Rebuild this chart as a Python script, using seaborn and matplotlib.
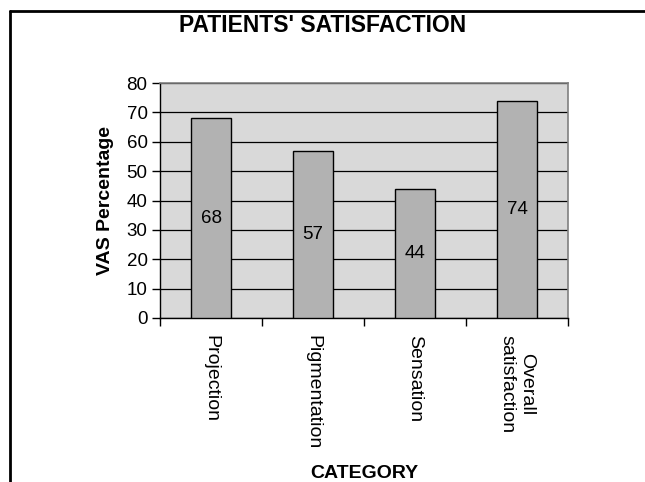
import matplotlib
matplotlib.use("Agg")
import matplotlib.pyplot as plt
from matplotlib.lines import Line2D
import seaborn as sns

# data
categories = ["Projection", "Pigmentation", "Sensation", "Overall\nsatisfaction"]
vas_values = [68, 57, 44, 74]
y_ticks = [0, 10, 20, 30, 40, 50, 60, 70, 80]

sns.set_style("white")
plt.rcParams['font.family'] = ['Liberation Sans', 'DejaVu Sans']
plt.rcParams['text.color'] = 'black'
plt.rcParams['axes.labelcolor'] = 'black'
plt.rcParams['xtick.color'] = 'black'
plt.rcParams['ytick.color'] = 'black'

fig = plt.figure(figsize=(6.45, 4.82), dpi=100)
ax = fig.add_axes([160 / 645, 1 - 318 / 482, 408 / 645, 235 / 482])
ax.set_facecolor('#d9d9d9')

sns.barplot(x=categories, y=vas_values, color='#b2b2b2', saturation=1,
            edgecolor='black', linewidth=1, width=0.4, ax=ax, zorder=3)
ax.bar_label(ax.containers[0], label_type='center', fontsize=13.5, color='black')

ax.set_ylim(0, 80)
ax.set_xlim(-0.5, len(categories) - 0.5)
ax.set_yticks(y_ticks)
ax.yaxis.grid(True, color='black', linewidth=0.9, zorder=1)
ax.set_axisbelow(True)

# ticks between categories, labels at category centres
ax.set_xticks([i - 0.5 for i in range(len(categories) + 1)], minor=True)
ax.tick_params(axis='x', which='minor', length=6, width=1, direction='out', bottom=True)
ax.tick_params(axis='x', which='major', length=0, pad=12)
ax.set_xticklabels(categories, rotation=270, va='top', ha='center',
                   multialignment='center', fontsize=14)
ax.tick_params(axis='y', length=6, width=1, direction='out', left=True, labelsize=13.5, pad=3)

for side in ['left', 'bottom']:
    ax.spines[side].set_color('black')
    ax.spines[side].set_linewidth(1)
for side in ['top', 'right']:
    ax.spines[side].set_color('#808080')
    ax.spines[side].set_linewidth(1.2)

ax.set_xlabel('CATEGORY', fontsize=14, fontweight='bold', va='center')
ax.xaxis.set_label_coords(0.5, (318 - 473) / 235)
ax.set_ylabel('VAS Percentage', fontsize=14, fontweight='bold', va='center')
ax.yaxis.set_label_coords((105 - 160) / 408, 0.5)

fig.text(0.5, 1 - 25 / 482, "PATIENTS' SATISFACTION", ha='center', va='center',
         fontsize=16.5, fontweight='bold')

# frame around the slide (left and top edges only visible)
fig.add_artist(Line2D([10 / 645, 10 / 645], [0, 1 - 11 / 482], color='black', linewidth=2))
fig.add_artist(Line2D([10 / 645, 1], [1 - 11 / 482, 1 - 11 / 482], color='black', linewidth=2))

fig.savefig('out.png', dpi=100)
